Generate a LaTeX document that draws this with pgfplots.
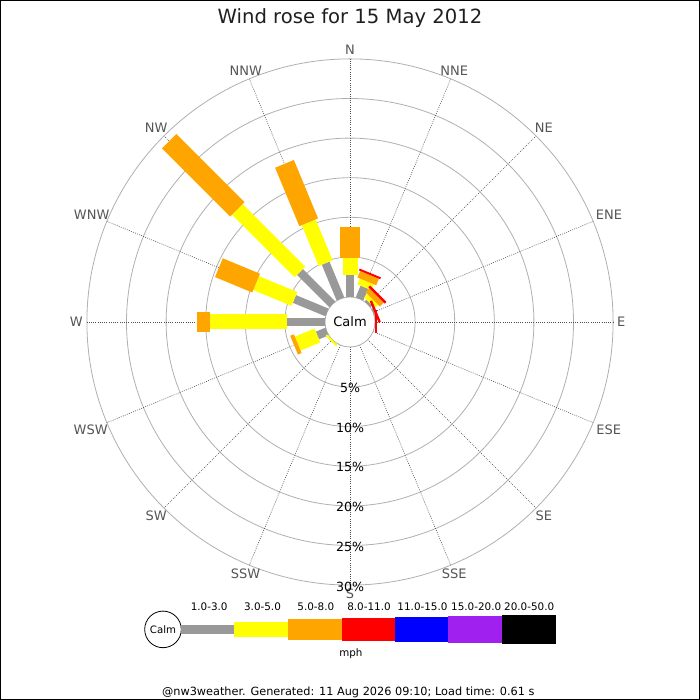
\documentclass[border=0pt]{standalone}
\usepackage{pgfplots}
\pgfplotsset{compat=1.18}
\usepackage{pgfplotstable}
\usepackage{fontspec}
\setmainfont{DejaVu Sans}
\definecolor{wgray}{HTML}{999999}
\definecolor{wyellow}{HTML}{FFFF00}
\definecolor{worange}{HTML}{FFA500}
\definecolor{wred}{HTML}{FF0000}
\definecolor{wblue}{HTML}{0000FF}
\definecolor{wpurple}{HTML}{A020F0}
\definecolor{gridc}{HTML}{B0B0B0}
\definecolor{spokec}{HTML}{505050}
\definecolor{labc}{HTML}{555555}
\newcommand\fs[1]{\fontsize{#1bp}{#1bp}\selectfont}
% cumulative percentages: end of gray (1-3), yellow (3-5), orange (5-8), red (8-11)
\pgfplotstableread{
b g yl or rd
0 2.8 4.9 8.9 8.9
22.5 1.6 2.4 3.3 3.55
45 0.3 0.9 1.6 1.9
67.5 0.15 0.15 0.15 0.45
90 0 0 0 0.25
225 0 0.25 0.25 0.25
247.5 1.3 4.0 4.5 4.5
270 4.8 14.6 16.2 16.2
292.5 4.45 9.7 14.8 14.8
315 5.8 17.0 29.2 29.2
337.5 4.9 10.5 18.5 18.5
}\rosedata
\begin{document}
\begin{tikzpicture}[x=1bp,y=1bp]
\fill[white] (0,0) rectangle (700,700);
\begin{scope}[shift={(350,378)}]
  \foreach \p in {5,10,...,30}
    \draw[gridc, line width=0.8bp] (0,0) circle[radius={25.5bp+7.92bp*\p}];
  \foreach \b in {0,22.5,...,337.5}
    \draw[spokec, line width=0.6bp, dash pattern=on 0.9bp off 1.3bp] ({90-\b}:25bp) -- ({90-\b}:263bp);
  \draw[gridc, line width=0.8bp, fill=white] (0,0) circle[radius=25bp];
\end{scope}
\begin{axis}[at={(0,0)}, anchor=south west, x=1bp, y=1bp,
  xmin=-350, xmax=350, ymin=-378, ymax=322, hide axis, clip=false]
\addplot[draw=wgray, line width=8.3bp, mark=none,
  quiver={u={7.9*\thisrow{g}*sin(\thisrow{b})}, v={7.9*\thisrow{g}*cos(\thisrow{b})}}]
  table[x expr={25*sin(\thisrow{b})}, y expr={25*cos(\thisrow{b})}]{\rosedata};
\addplot[draw=wyellow, line width=15bp, mark=none,
  quiver={u={7.9*(\thisrow{yl}-\thisrow{g})*sin(\thisrow{b})}, v={7.9*(\thisrow{yl}-\thisrow{g})*cos(\thisrow{b})}}]
  table[x expr={(25+7.9*\thisrow{g})*sin(\thisrow{b})}, y expr={(25+7.9*\thisrow{g})*cos(\thisrow{b})}]{\rosedata};
\addplot[draw=worange, line width=20.3bp, mark=none,
  quiver={u={7.9*(\thisrow{or}-\thisrow{yl})*sin(\thisrow{b})}, v={7.9*(\thisrow{or}-\thisrow{yl})*cos(\thisrow{b})}}]
  table[x expr={(25+7.9*\thisrow{yl})*sin(\thisrow{b})}, y expr={(25+7.9*\thisrow{yl})*cos(\thisrow{b})}]{\rosedata};
\addplot[draw=wred, line width=23bp, mark=none,
  quiver={u={7.9*(\thisrow{rd}-\thisrow{or})*sin(\thisrow{b})}, v={7.9*(\thisrow{rd}-\thisrow{or})*cos(\thisrow{b})}}]
  table[x expr={(25+7.9*\thisrow{or})*sin(\thisrow{b})}, y expr={(25+7.9*\thisrow{or})*cos(\thisrow{b})}]{\rosedata};
\end{axis}
\begin{scope}[shift={(350,378)}]
  \node[font=\fs{13}] at (0,0) {Calm};
  \foreach \b/\t in {0/N,22.5/NNE,45/NE,67.5/ENE,90/E,112.5/ESE,135/SE,157.5/SSE,180/S,202.5/SSW,225/SW,247.5/WSW,270/W,292.5/WNW,315/NW,337.5/NNW}{
    \pgfmathsetmacro\an{mod(630-\b,360)}
    \node[anchor=\an, inner sep=0pt, text=labc, font=\fs{13}] at ({90-\b}:267bp) {\t};
  }
  \foreach \p in {5,10,...,30}
    \node[font=\fs{12.6}, inner sep=0pt] at (0,{-(26+7.96*\p)}) {\p\%};
\end{scope}
% title
\node[anchor=base, font=\fs{19.6}, text=black!88] at (350,676) {Wind rose for 15 May 2012};
% legend
\draw[black, line width=0.8bp, fill=white] (163,70.6) circle[radius=18.3bp];
\node[font=\fs{10.2}] at (163,70.6) {Calm};
\fill[wgray]   (181.3,{70.6-4.15}) rectangle (234.3,{70.6+4.15});
\fill[wyellow] (234.3,{70.6-7.5}) rectangle (288,{70.6+7.5});
\fill[worange] (288,{70.6-10.15}) rectangle (341.7,{70.6+10.15});
\fill[wred]    (341.7,{70.6-11.5}) rectangle (395,{70.6+11.5});
\fill[wblue]   (395,{70.6-12.5}) rectangle (448.3,{70.6+12.5});
\fill[wpurple] (448.3,{70.6-13.5}) rectangle (501.7,{70.6+13.5});
\fill[black]   (501.7,{70.6-14.35}) rectangle (556,{70.6+14.35});
\foreach \x/\t in {209.2/1.0-3.0,262.5/3.0-5.0,315.8/5.0-8.0,369/8.0-11.0,422.5/11.0-15.0,476.2/15.0-20.0,529.2/20.0-50.0}
  \node[font=\fs{10.4}, inner sep=0pt] at (\x,93.3) {\t};
\node[anchor=base, font=\fs{10.3}, inner sep=0pt] at (350.8,43.3) {mph};
% footer
\node[anchor=base, font=\fs{11.3}, inner sep=0pt] at (348.3,4.6) {@nw3weather. Generated: 11 Aug 2026 09:10; Load time: 0.61 s};
\draw[black, line width=1bp] (0.5,0.5) rectangle (699.5,699.5);
\end{tikzpicture}
\end{document}
